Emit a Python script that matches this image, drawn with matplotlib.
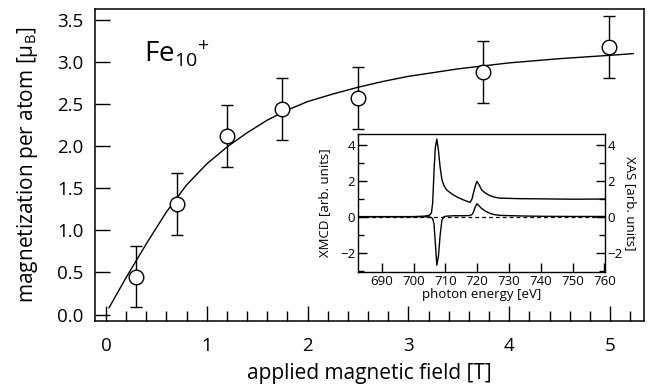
import numpy as np
import matplotlib
matplotlib.use("Agg")
import matplotlib.pyplot as plt
from matplotlib.ticker import MultipleLocator, FormatStrFormatter

plt.rcParams['font.family'] = ['Open Sans', 'DejaVu Sans']
plt.rcParams['mathtext.fontset'] = 'custom'
plt.rcParams['mathtext.rm'] = 'Open Sans'
plt.rcParams['mathtext.it'] = 'Open Sans:italic'

# magnetization data
field = [0.30, 0.70, 1.20, 1.75, 2.50, 3.74, 4.99]
moment = [0.45, 1.31, 2.12, 2.44, 2.57, 2.88, 3.18]
moment_err = [0.36, 0.37, 0.37, 0.37, 0.37, 0.37, 0.37]

# fit curve
fit_field = [0.03, 0.2, 0.4, 0.6, 0.8, 1.0, 1.2, 1.4, 1.6, 1.8, 2.0, 2.25,
             2.5, 2.75, 3.0, 3.5, 4.0, 4.5, 5.0, 5.23]
fit_moment = [0.08, 0.44, 0.84, 1.22, 1.54, 1.79, 1.99, 2.16, 2.31, 2.43, 2.53,
              2.62, 2.70, 2.77, 2.83, 2.92, 2.99, 3.04, 3.08, 3.10]

# inset spectra
energy = [682.5, 700.0, 703.5, 705.0, 705.6, 706.0, 706.4, 706.8, 707.3, 707.8,
          708.3, 708.9, 709.6, 710.4, 711.5, 712.5, 714.0, 715.7, 717.0, 717.8,
          718.4, 718.8, 719.4, 719.9, 720.5, 721.4, 722.5, 724.0, 725.5, 727.2,
          733.5, 740.0, 750.0, 760.0]
xas = [0.0, 0.0, 0.03, 0.08, 0.2, 0.8, 2.5, 3.8, 4.32, 3.7,
       2.8, 2.05, 1.70, 1.49, 1.33, 1.21, 1.06, 0.93, 0.84, 0.80,
       1.0, 1.31, 1.70, 1.96, 1.80, 1.49, 1.32, 1.17, 1.08, 1.03,
       1.0, 0.99, 0.97, 0.98]
xmcd = [0.0, 0.0, 0.0, -0.02, -0.05, -0.12, -0.4, -1.4, -2.70, -2.2,
        -1.1, -0.18, 0.0, 0.03, 0.04, 0.05, 0.05, 0.05, 0.06, 0.07,
        0.12, 0.25, 0.55, 0.72, 0.62, 0.45, 0.32, 0.18, 0.11, 0.07,
        0.04, 0.02, 0.01, 0.01]

fig = plt.figure(figsize=(6.48, 3.85), dpi=100)
ax = fig.add_axes([0.1466, 0.1662, 0.8472, 0.8104])

ax.plot(fit_field, fit_moment, color='black', lw=1.0)
ax.errorbar(field, moment, yerr=moment_err, fmt='o', ms=10.5, mfc='white',
            mec='black', mew=1.0, ecolor='black', elinewidth=1.0, capsize=4.2,
            capthick=1.0, zorder=3)

ax.set_xlim(-0.109, 5.337)
ax.set_ylim(-0.077, 3.63)
ax.xaxis.set_major_locator(MultipleLocator(1))
ax.xaxis.set_minor_locator(MultipleLocator(0.2))
ax.yaxis.set_major_locator(MultipleLocator(0.5))
ax.yaxis.set_major_formatter(FormatStrFormatter('%.1f'))
ax.tick_params(which='major', direction='in', length=10.5, width=1.0,
               labelsize=13.5, top=False, right=False)
ax.tick_params(which='minor', direction='in', length=7, width=1.0,
               top=False, right=False)
ax.tick_params(axis='y', which='minor', length=0)
ax.tick_params(axis='x', pad=11.5)
ax.tick_params(axis='y', pad=8.3)
for s in ax.spines.values():
    s.set_linewidth(1.1)

ax.set_xlabel('applied magnetic field [T]', fontsize=15, labelpad=5.5)
ax.set_ylabel('magnetization per atom [μ$_\\mathrm{B}$]', fontsize=15, labelpad=12.5)
ax.text(0.38, 2.99, r'Fe$_{10}{}^{+}$', fontsize=20, ha='left', va='baseline')

# inset
ins = fig.add_axes([0.5525, 0.2935, 0.3811, 0.3585])
ins.axhline(0, color='black', lw=0.9, ls=(0, (3, 2.5)))
ins.plot(energy, xas, color='black', lw=1.0)
ins.plot(energy, xmcd, color='black', lw=1.0)
ins.set_xlim(682.5, 760.2)
ins.set_ylim(-3.08, 4.6)
ins.xaxis.set_major_locator(MultipleLocator(10))
ins.yaxis.set_major_locator(MultipleLocator(2))
ins.yaxis.set_minor_locator(MultipleLocator(1))
ins.tick_params(which='major', direction='in', length=6.5, width=1.0,
                labelsize=9.5, pad=2, left=True, right=True,
                labelleft=True, labelright=True)
ins.tick_params(which='minor', direction='in', length=4, width=1.0,
                left=True, right=True)
ins.tick_params(axis='x', pad=2)
for s in ins.spines.values():
    s.set_linewidth(1.0)
ins.set_xlabel('photon energy [eV]', fontsize=9.5, labelpad=0.5)
ins.text(-0.135, 0.5, 'XMCD [arb. units]', transform=ins.transAxes,
         fontsize=9.5, rotation=90, ha='center', va='center')
ins.text(1.105, 0.5, 'XAS [arb. units]', transform=ins.transAxes,
         fontsize=9.5, rotation=270, ha='center', va='center')

fig.savefig('out.png', dpi=100)
